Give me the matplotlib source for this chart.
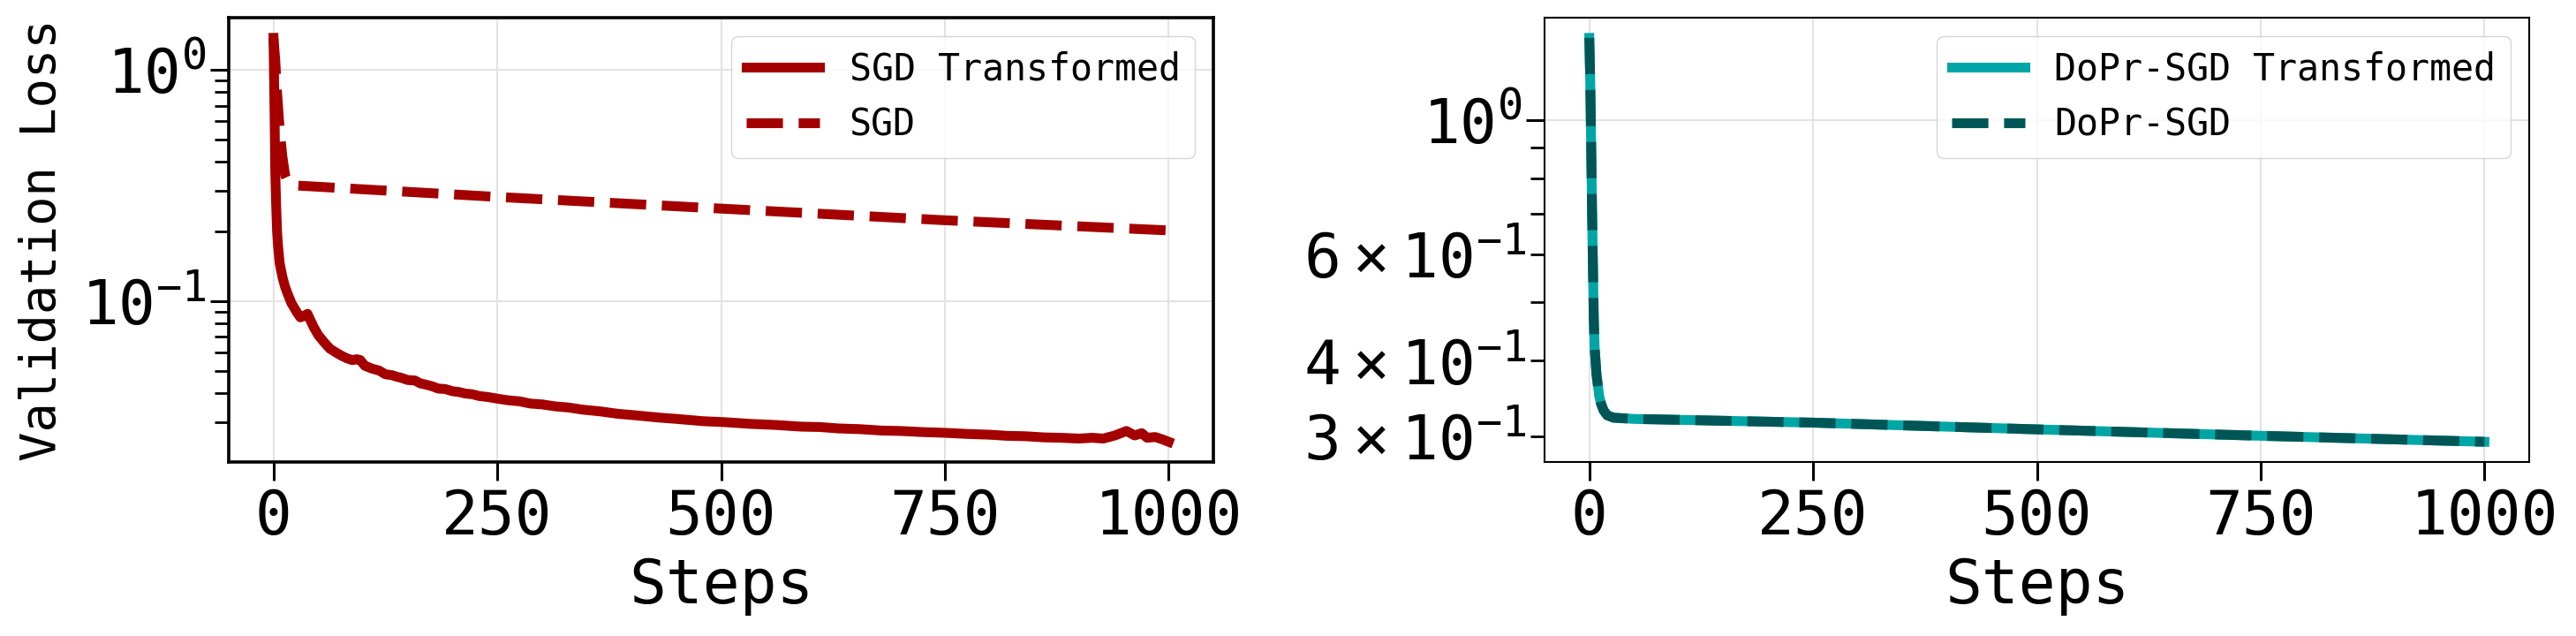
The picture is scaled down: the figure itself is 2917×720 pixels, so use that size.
import matplotlib
matplotlib.use("Agg")
import matplotlib.pyplot as plt

plt.rcParams['font.family'] = 'monospace'
plt.rcParams['font.monospace'] = ['DejaVu Sans Mono']

# left panel: SGD vs SGD transformed
sgd_tr_steps = [0, 1, 2, 3, 4, 5, 7, 10, 13, 16, 20, 26, 30, 34, 38, 41, 45, 50, 57, 63,
                70, 76, 82, 88, 93, 97, 102, 110, 118, 125, 132, 138, 143, 150, 158, 164,
                170, 177, 184, 192, 200, 207, 214, 222, 230, 240, 250, 262, 275, 287, 300,
                315, 330, 345, 365, 385, 405, 431, 450, 480, 505, 533, 560, 590, 610, 631,
                655, 680, 700, 725, 750, 775, 800, 820, 840, 861, 880, 900, 915, 927, 940,
                953, 962, 970, 976, 985, 993, 1000]
sgd_tr_loss = [1.375, 0.75, 0.36, 0.26, 0.20, 0.175, 0.145, 0.127, 0.115, 0.107, 0.098,
               0.0895, 0.0850, 0.0860, 0.0880, 0.0830, 0.0770, 0.0712, 0.0660, 0.0622,
               0.0598, 0.0580, 0.0565, 0.0555, 0.0560, 0.0555, 0.0525, 0.0510, 0.0500,
               0.0482, 0.0478, 0.0470, 0.0465, 0.0455, 0.0453, 0.0440, 0.0435, 0.0428,
               0.0418, 0.0416, 0.0407, 0.0404, 0.0398, 0.0395, 0.0388, 0.0384, 0.0378,
               0.0372, 0.0368, 0.0360, 0.0357, 0.0350, 0.0346, 0.0339, 0.0333, 0.0325,
               0.0320, 0.0313, 0.0309, 0.0302, 0.0299, 0.0294, 0.0291, 0.0286, 0.0285,
               0.0281, 0.0279, 0.0275, 0.0274, 0.0271, 0.0269, 0.0266, 0.0264, 0.0261,
               0.0260, 0.0257, 0.0256, 0.0254, 0.0256, 0.0254, 0.0262, 0.0274, 0.0262,
               0.0268, 0.0256, 0.0258, 0.0252, 0.0246]

sgd_steps = [0, 2, 4, 6, 8, 10, 13, 16, 25, 250, 500, 750, 1000]
sgd_loss = [1.375, 1.10, 0.80, 0.62, 0.50, 0.42, 0.35, 0.33, 0.316, 0.282, 0.251, 0.2235, 0.202]

# right panel: DoPr-SGD vs DoPr-SGD transformed
dopr_steps = [0, 1, 2, 3, 4, 5, 6, 8, 11, 13, 16, 20, 27, 50, 250, 500, 750, 1000]
dopr_tr_loss = [1.366, 1.17, 0.93, 0.72, 0.58, 0.47, 0.42, 0.38, 0.35, 0.34, 0.331, 0.325,
                0.322, 0.3205, 0.316, 0.308, 0.3006, 0.2938]
dopr_loss = [1.366, 1.17, 0.93, 0.72, 0.58, 0.47, 0.42, 0.38, 0.35, 0.34, 0.331, 0.325,
             0.322, 0.3205, 0.316, 0.308, 0.3006, 0.2938]

red = '#a40000'
teal = '#00a6a6'
dark_teal = '#005656'

fig = plt.figure(figsize=(29.17, 7.2), dpi=100)
W, H = 2917, 720
ax1 = fig.add_axes([259 / W, 1 - 523 / H, (1374 - 259) / W, (523 - 20) / H])
ax2 = fig.add_axes([1749 / W, 1 - 523 / H, (2864 - 1749) / W, (523 - 20) / H])

ax1.plot(sgd_tr_steps, sgd_tr_loss, color=red, lw=8, label='SGD Transformed')
ax1.plot(sgd_steps, sgd_loss, color=red, lw=8, ls='--', label='SGD')
ax2.plot(dopr_steps, dopr_tr_loss, color=teal, lw=8, label='DoPr-SGD Transformed')
ax2.plot(dopr_steps, dopr_loss, color=dark_teal, lw=8, ls='--', label='DoPr-SGD')

for ax, spw in [(ax1, 2.6), (ax2, 1.5)]:
    ax.set_yscale('log')
    ax.set_axisbelow(True)
    ax.grid(True, which='major', color='#e3e3e3', lw=1.5)
    for s in ax.spines.values():
        s.set_linewidth(spw)
    ax.tick_params(which='major', length=15, width=2.2, labelsize=50)
    ax.tick_params(which='minor', length=11.5, width=2.0, labelsize=50)
    ax.tick_params(axis='x', pad=6)
    ax.set_xticks([0, 250, 500, 750, 1000])
    ax.set_xlabel('Steps', fontsize=50, labelpad=8)
    ax.legend(loc='upper right', fontsize=30)

ax1.set_ylabel('Validation Loss', fontsize=40)
ax1.yaxis.set_label_coords(-0.165, 0.5)

fig.savefig('out.png', dpi=100)
